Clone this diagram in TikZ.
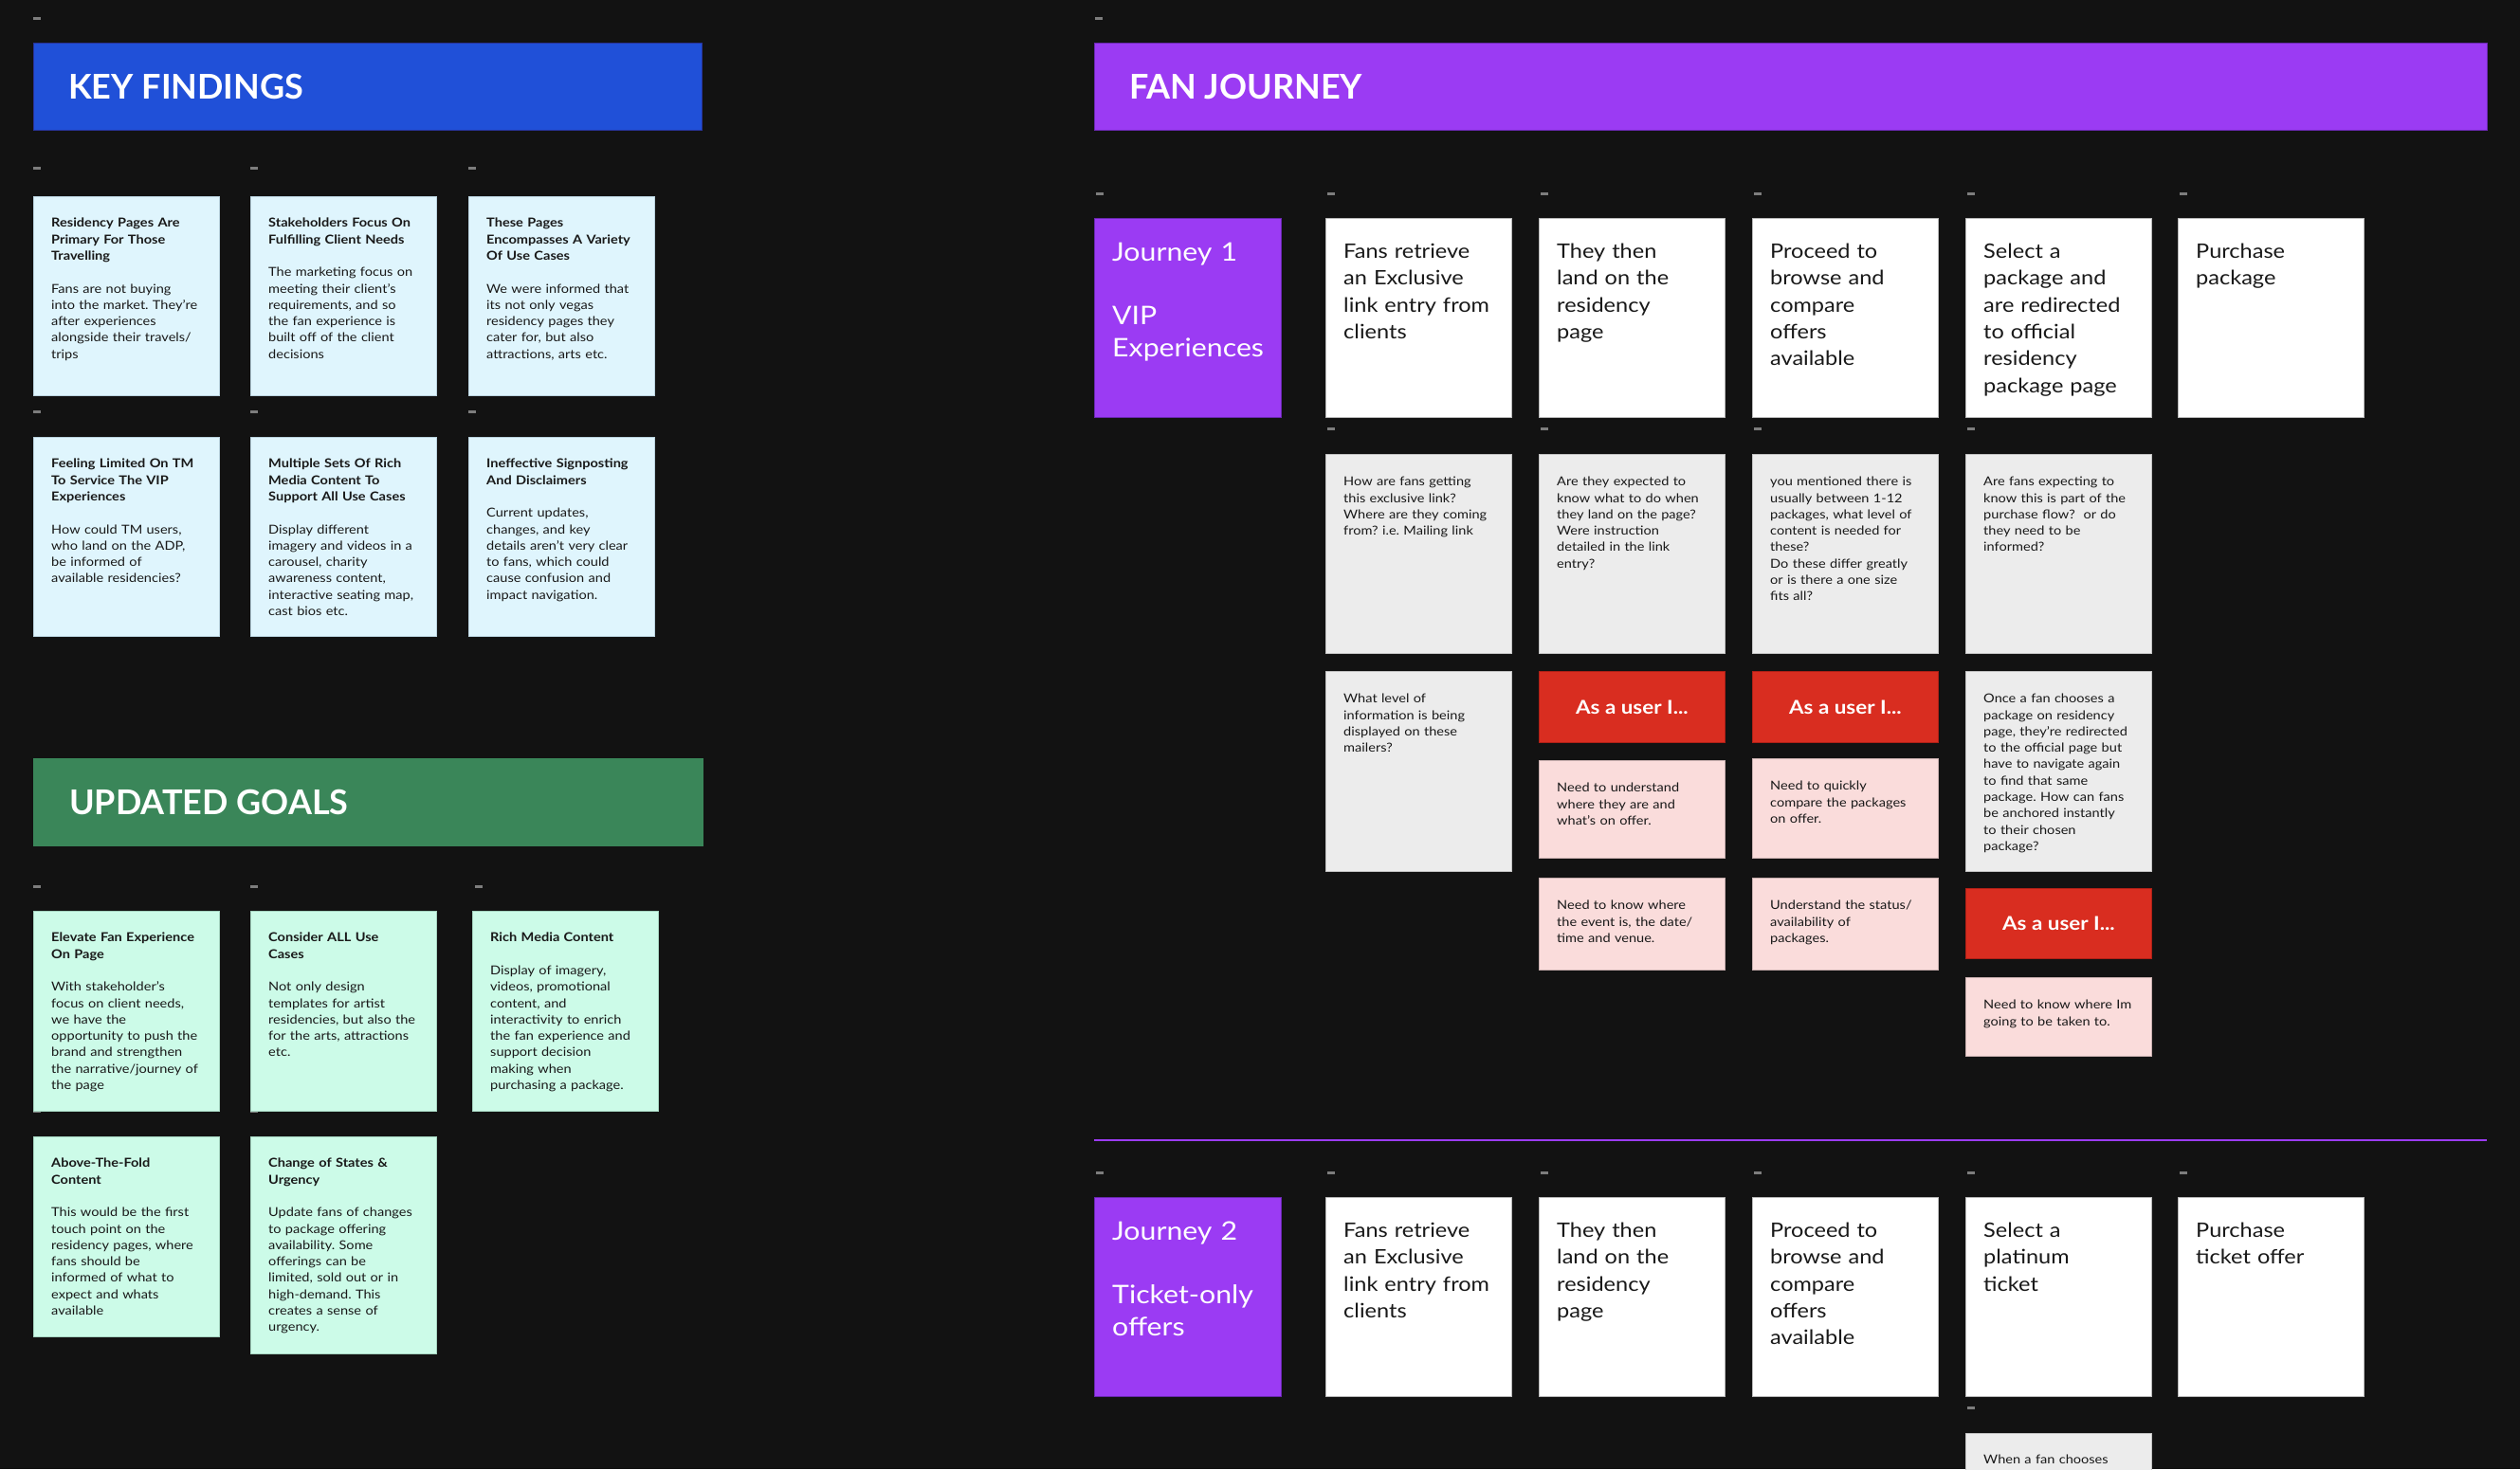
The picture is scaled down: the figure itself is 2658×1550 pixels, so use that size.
\documentclass[tikz,border=0pt]{standalone}
\usepackage{fontspec}
\setmainfont{Lato}[FakeStretch=1.12]
\newfontfamily\headface{Lato}
\usepackage{xcolor}
\usepackage{tikz}
\usetikzlibrary{positioning}
\frenchspacing
\definecolor{boardbg}{RGB}{18,18,18}
\definecolor{dashgray}{RGB}{125,125,125}
\definecolor{kfblue}{RGB}{32,80,216}
\definecolor{kfedge}{RGB}{40,50,150}
\definecolor{fjpurple}{RGB}{155,59,243}
\definecolor{fjedge}{RGB}{105,40,175}
\definecolor{ugreen}{RGB}{58,134,89}
\definecolor{findfill}{RGB}{223,245,253}
\definecolor{findedge}{RGB}{185,210,222}
\definecolor{goalfill}{RGB}{204,251,232}
\definecolor{goaledge}{RGB}{165,212,192}
\definecolor{askfill}{RGB}{236,236,236}
\definecolor{askedge}{RGB}{195,195,195}
\definecolor{userred}{RGB}{217,45,32}
\definecolor{useredge}{RGB}{175,32,22}
\definecolor{needpink}{RGB}{250,220,219}
\definecolor{neededge}{RGB}{200,175,175}
\definecolor{stepedge}{RGB}{185,185,185}
\definecolor{inkdark}{RGB}{25,25,25}
\tikzset{
  banner/.style={rectangle, anchor=north west, inner sep=0pt,
    minimum height=92pt, line width=0.8pt},
  bannertext/.style={inner sep=0pt, text=white,
    font=\headface\fontsize{36}{40}\selectfont\bfseries},
  card/.style={rectangle, anchor=north west, inner sep=0pt,
    minimum width=196pt, line width=0.8pt},
  findcard/.style={card, fill=findfill, draw=findedge, minimum height=210pt},
  goalcard/.style={card, fill=goalfill, draw=goaledge, minimum height=211pt},
  stepcard/.style={card, fill=white, draw=stepedge, minimum height=210pt},
  journeybox/.style={card, fill=fjpurple, draw=fjedge, minimum width=197pt,
    minimum height=210pt},
  askcard/.style={card, fill=askfill, draw=askedge, minimum height=210pt},
  usercard/.style={card, fill=userred, draw=useredge, text=white,
    font=\fontsize{20}{24}\selectfont\bfseries},
  needcard/.style={card, fill=needpink, draw=neededge},
  smalltext/.style={inner sep=0pt, text width=186pt, align=left,
    text=inkdark, font=\fontsize{13}{17.3}\selectfont},
  steptext/.style={inner sep=0pt, text width=186pt, align=left,
    text=inkdark, font=\fontsize{21}{28.3}\selectfont},
  journeytext/.style={inner sep=0pt, text width=186pt, align=left,
    text=white, font=\fontsize{27}{33.5}\selectfont},
  dashmark/.style={fill=dashgray}
}

\begin{document}
\begin{tikzpicture}[x=1pt, y=-1pt]
    \useasboundingbox (0,0) rectangle (2658,1550);
    \clip (0,0) rectangle (2658,1550);
    % Board
    \fill[boardbg] (0,0) rectangle (2658,1550);
    % Little markers above the stickies
    \fill[dashmark] (35,18) rectangle ++(8,2.5);
    \fill[dashmark] (1155,18) rectangle ++(8,2.5);
    \fill[dashmark] (35,176) rectangle ++(8,2.5);
    \fill[dashmark] (264,176) rectangle ++(8,2.5);
    \fill[dashmark] (494,176) rectangle ++(8,2.5);
    \fill[dashmark] (35,433) rectangle ++(8,2.5);
    \fill[dashmark] (264,433) rectangle ++(8,2.5);
    \fill[dashmark] (494,433) rectangle ++(8,2.5);
    \fill[dashmark] (35,934) rectangle ++(8,2.5);
    \fill[dashmark] (264,934) rectangle ++(8,2.5);
    \fill[dashmark] (501,934) rectangle ++(8,2.5);
    \fill[dashmark] (35,1171) rectangle ++(8,2.5);
    \fill[dashmark] (264,1171) rectangle ++(8,2.5);
    \fill[dashmark] (1156,203) rectangle ++(8,2.5);
    \fill[dashmark] (1400,203) rectangle ++(8,2.5);
    \fill[dashmark] (1625,203) rectangle ++(8,2.5);
    \fill[dashmark] (1850,203) rectangle ++(8,2.5);
    \fill[dashmark] (2075,203) rectangle ++(8,2.5);
    \fill[dashmark] (2299,203) rectangle ++(8,2.5);
    \fill[dashmark] (1400,451) rectangle ++(8,2.5);
    \fill[dashmark] (1625,451) rectangle ++(8,2.5);
    \fill[dashmark] (1850,451) rectangle ++(8,2.5);
    \fill[dashmark] (2075,451) rectangle ++(8,2.5);
    \fill[dashmark] (1156,1236) rectangle ++(8,2.5);
    \fill[dashmark] (1400,1236) rectangle ++(8,2.5);
    \fill[dashmark] (1625,1236) rectangle ++(8,2.5);
    \fill[dashmark] (1850,1236) rectangle ++(8,2.5);
    \fill[dashmark] (2075,1236) rectangle ++(8,2.5);
    \fill[dashmark] (2299,1236) rectangle ++(8,2.5);
    \fill[dashmark] (2075,1484) rectangle ++(8,2.5);

    % Banners
    \node[banner, fill=kfblue, draw=kfedge, minimum width=705pt] (kfbar) at (35,45) {};
    \node[bannertext, right=37pt of kfbar.west] (kftitle) {KEY FINDINGS};
    \node[banner, fill=fjpurple, draw=fjedge, minimum width=1469pt] (fjbar) at (1154,45) {};
    \node[bannertext, right=37pt of fjbar.west] (fjtitle) {FAN JOURNEY};
    \node[banner, fill=ugreen, draw=ugreen, minimum width=706pt] (ugbar) at (35,800) {};
    \node[bannertext, right=38pt of ugbar.west] (ugtitle) {UPDATED GOALS};

    % Key findings
    \node[findcard] (kf1) at (35,207) {};
    \node[smalltext, below right=23pt and 19pt of kf1.north west] (kf1text)
      {\bfseries Residency Pages Are\\Primary For Those\\Travelling\\[17.3pt]\mdseries
       Fans are not buying\\into the market. They’re\\after experiences\\alongside their travels/\\trips};
    \node[findcard] (kf2) at (264,207) {};
    \node[smalltext, below right=23pt and 19pt of kf2.north west] (kf2text)
      {\bfseries Stakeholders Focus On\\Fulfilling Client Needs\\[17.3pt]\mdseries
       The marketing focus on\\meeting their client’s\\requirements, and so\\the fan experience is\\built off of the client\\decisions};
    \node[findcard] (kf3) at (494,207) {};
    \node[smalltext, below right=23pt and 19pt of kf3.north west] (kf3text)
      {\bfseries These Pages\\Encompasses A Variety\\Of Use Cases\\[17.3pt]\mdseries
       We were informed that\\its not only vegas\\residency pages they\\cater for, but also\\attractions, arts etc.};
    \node[findcard] (kf4) at (35,461) {};
    \node[smalltext, below right=23pt and 19pt of kf4.north west] (kf4text)
      {\bfseries Feeling Limited On TM\\To Service The VIP\\Experiences\\[17.3pt]\mdseries
       How could TM users,\\who land on the ADP,\\be informed of\\available residencies?};
    \node[findcard] (kf5) at (264,461) {};
    \node[smalltext, below right=23pt and 19pt of kf5.north west] (kf5text)
      {\bfseries Multiple Sets Of Rich\\Media Content To\\Support All Use Cases\\[17.3pt]\mdseries
       Display different\\imagery and videos in a\\carousel, charity\\awareness content,\\interactive seating map,\\cast bios etc.};
    \node[findcard] (kf6) at (494,461) {};
    \node[smalltext, below right=23pt and 19pt of kf6.north west] (kf6text)
      {\bfseries Ineffective Signposting\\And Disclaimers\\[17.3pt]\mdseries
       Current updates,\\changes, and key\\details aren’t very clear\\to fans, which could\\cause confusion and\\impact navigation.};

    % Updated goals
    \node[goalcard] (ug1) at (35,961) {};
    \node[smalltext, below right=23pt and 19pt of ug1.north west] (ug1text)
      {\bfseries Elevate Fan Experience\\On Page\\[17.3pt]\mdseries
       With stakeholder’s\\focus on client needs,\\we have the\\opportunity to push the\\brand and strengthen\\the narrative/journey of\\the page};
    \node[goalcard] (ug2) at (264,961) {};
    \node[smalltext, below right=23pt and 19pt of ug2.north west] (ug2text)
      {\bfseries Consider ALL Use\\Cases\\[17.3pt]\mdseries
       Not only design\\templates for artist\\residencies, but also the\\for the arts, attractions\\etc.};
    \node[goalcard] (ug3) at (498,961) {};
    \node[smalltext, below right=23pt and 19pt of ug3.north west] (ug3text)
      {\bfseries Rich Media Content\\[17.3pt]\mdseries
       Display of imagery,\\videos, promotional\\content, and\\interactivity to enrich\\the fan experience and\\support decision\\making when\\purchasing a package.};
    \node[goalcard] (ug4) at (35,1199) {};
    \node[smalltext, below right=23pt and 19pt of ug4.north west] (ug4text)
      {\bfseries Above-The-Fold\\Content\\[17.3pt]\mdseries
       This would be the first\\touch point on the\\residency pages, where\\fans should be\\informed of what to\\expect and whats\\available};
    \node[goalcard, minimum height=229pt] (ug5) at (264,1199) {};
    \node[smalltext, below right=23pt and 19pt of ug5.north west] (ug5text)
      {\bfseries Change of States \&\\Urgency\\[17.3pt]\mdseries
       Update fans of changes\\to package offering\\availability. Some\\offerings can be\\limited, sold out or in\\high-demand. This\\creates a sense of\\urgency.};

    % Journey 1
    \node[journeybox] (jone) at (1154,230) {};
    \node[journeytext, below right=26pt and 19pt of jone.north west] (jonetext)
      {Journey 1\\[33.5pt]VIP\\Experiences};
    \node[stepcard] (s11) at (1398,230) {};
    \node[steptext, below right=27pt and 19pt of s11.north west] (s11text)
      {Fans retrieve\\an Exclusive\\link entry from\\clients};
    \node[stepcard] (s12) at (1623,230) {};
    \node[steptext, below right=27pt and 19pt of s12.north west] (s12text)
      {They then\\land on the\\residency\\page};
    \node[stepcard] (s13) at (1848,230) {};
    \node[steptext, below right=27pt and 19pt of s13.north west] (s13text)
      {Proceed to\\browse and\\compare\\offers\\available};
    \node[stepcard] (s14) at (2073,230) {};
    \node[steptext, below right=27pt and 19pt of s14.north west] (s14text)
      {Select a\\package and\\are redirected\\to official\\residency\\package page};
    \node[stepcard] (s15) at (2297,230) {};
    \node[steptext, below right=27pt and 19pt of s15.north west] (s15text)
      {Purchase\\package};

    % Open questions
    \node[askcard] (q1) at (1398,479) {};
    \node[smalltext, below right=24pt and 19pt of q1.north west] (q1text)
      {How are fans getting\\this exclusive link?\\Where are they coming\\from? i.e. Mailing link};
    \node[askcard] (q2) at (1623,479) {};
    \node[smalltext, below right=24pt and 19pt of q2.north west] (q2text)
      {Are they expected to\\know what to do when\\they land on the page?\\Were instruction\\detailed in the link\\entry?};
    \node[askcard] (q3) at (1848,479) {};
    \node[smalltext, below right=24pt and 19pt of q3.north west] (q3text)
      {you mentioned there is\\usually between 1-12\\packages, what level of\\content is needed for\\these?\\Do these differ greatly\\or is there a one size\\fits all?};
    \node[askcard] (q4) at (2073,479) {};
    \node[smalltext, below right=24pt and 19pt of q4.north west] (q4text)
      {Are fans expecting to\\know this is part of the\\purchase flow?~ or do\\they need to be\\informed?};

    \node[askcard, minimum height=211pt] (q5) at (1398,708) {};
    \node[smalltext, below right=24pt and 19pt of q5.north west] (q5text)
      {What level of\\information is being\\displayed on these\\mailers?};
    \node[askcard, minimum height=211pt] (q6) at (2073,708) {};
    \node[smalltext, below right=24pt and 19pt of q6.north west] (q6text)
      {Once a fan chooses a\\package on residency\\page, they’re redirected\\to the official page but\\have to navigate again\\to find that same\\package. How can fans\\be anchored instantly\\to their chosen\\package?};

    % User needs
    \node[usercard, minimum height=75pt] (u1) at (1623,708) {As a user I...};
    \node[usercard, minimum height=75pt] (u2) at (1848,708) {As a user I...};
    \node[usercard, minimum height=74pt] (u3) at (2073,937) {As a user I...};
    \node[needcard, minimum height=103pt] (n1) at (1623,802) {};
    \node[smalltext, below right=24pt and 19pt of n1.north west] (n1text)
      {Need to understand\\where they are and\\what’s on offer.};
    \node[needcard, minimum height=105pt] (n2) at (1848,800) {};
    \node[smalltext, below right=24pt and 19pt of n2.north west] (n2text)
      {Need to quickly\\compare the packages\\on offer.};
    \node[needcard, minimum height=97pt] (n3) at (1623,926) {};
    \node[smalltext, below right=24pt and 19pt of n3.north west] (n3text)
      {Need to know where\\the event is, the date/\\time and venue.};
    \node[needcard, minimum height=97pt] (n4) at (1848,926) {};
    \node[smalltext, below right=24pt and 19pt of n4.north west] (n4text)
      {Understand the status/\\availability of\\packages.};
    \node[needcard, minimum height=83pt] (n5) at (2073,1031) {};
    \node[smalltext, below right=24pt and 19pt of n5.north west] (n5text)
      {Need to know where Im\\going to be taken to.};

    % Divider
    \draw[fjpurple, line width=2pt] (1154,1203) -- (2623,1203);

    % Journey 2
    \node[journeybox] (jtwo) at (1154,1263) {};
    \node[journeytext, below right=26pt and 19pt of jtwo.north west] (jtwotext)
      {Journey 2\\[33.5pt]Ticket-only\\offers};
    \node[stepcard] (s21) at (1398,1263) {};
    \node[steptext, below right=27pt and 19pt of s21.north west] (s21text)
      {Fans retrieve\\an Exclusive\\link entry from\\clients};
    \node[stepcard] (s22) at (1623,1263) {};
    \node[steptext, below right=27pt and 19pt of s22.north west] (s22text)
      {They then\\land on the\\residency\\page};
    \node[stepcard] (s23) at (1848,1263) {};
    \node[steptext, below right=27pt and 19pt of s23.north west] (s23text)
      {Proceed to\\browse and\\compare\\offers\\available};
    \node[stepcard] (s24) at (2073,1263) {};
    \node[steptext, below right=27pt and 19pt of s24.north west] (s24text)
      {Select a\\platinum\\ticket};
    \node[stepcard] (s25) at (2297,1263) {};
    \node[steptext, below right=27pt and 19pt of s25.north west] (s25text)
      {Purchase\\ticket offer};
    \node[askcard] (q7) at (2073,1512) {};
    \node[smalltext, below right=23pt and 19pt of q7.north west] (q7text)
      {When a fan chooses};
\end{tikzpicture}
\end{document}
